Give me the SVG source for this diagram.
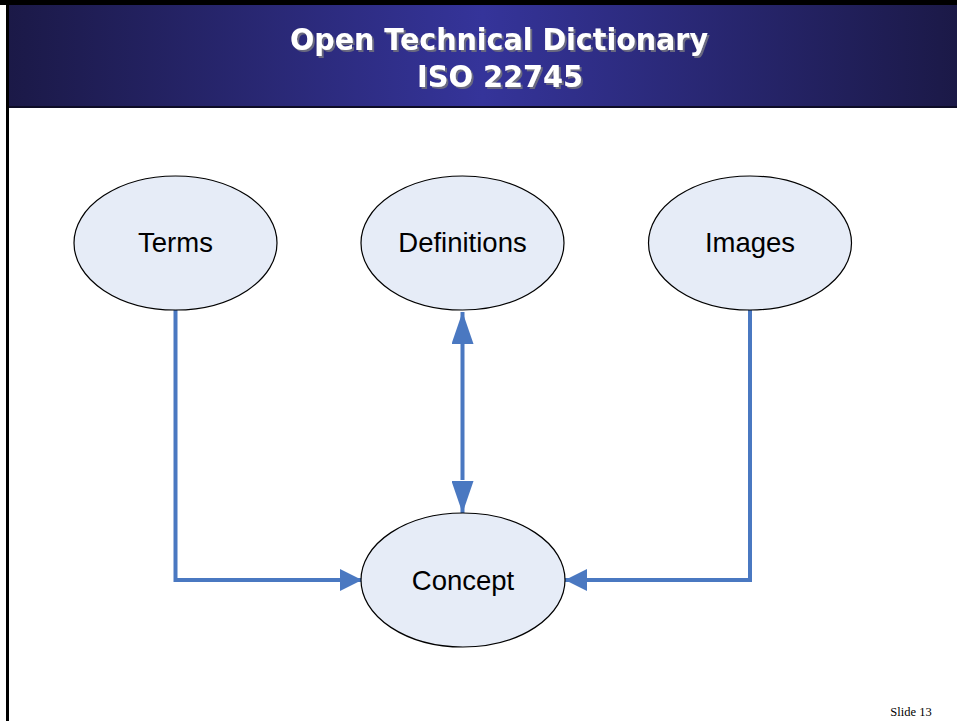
<svg xmlns="http://www.w3.org/2000/svg" width="957" height="721" viewBox="0 0 957 721">
  <defs>
    <linearGradient id="band" x1="0" y1="0" x2="1" y2="0">
      <stop offset="0" stop-color="#1b1947"/>
      <stop offset="0.5" stop-color="#35349a"/>
      <stop offset="1" stop-color="#1b1947"/>
    </linearGradient>
    <filter id="shade" x="-5%" y="-20%" width="110%" height="150%">
      <feDropShadow dx="2" dy="2" stdDeviation="0.4" flood-color="#6b6b80" flood-opacity="1"/>
    </filter>
    <marker id="headH" viewBox="0 0 22 22" refX="22" refY="11" markerWidth="22" markerHeight="22" markerUnits="userSpaceOnUse" orient="auto">
      <path d="M0,0 L22,11 L0,22 Z" fill="#4a78c1"/>
    </marker>
    <marker id="headV" viewBox="0 0 32 22" refX="32" refY="11" markerWidth="32" markerHeight="22" markerUnits="userSpaceOnUse" orient="auto">
      <path d="M0,0 L32,11 L0,22 Z" fill="#4a78c1"/>
    </marker>
  </defs>
  <style>
    .node ellipse { fill: #e6ecf7; stroke: #000; stroke-width: 1.2; }
    .node text { font-family: "Liberation Sans", Arial, sans-serif; font-size: 27.5px; fill: #000; text-anchor: middle; }
    .title { font-family: "DejaVu Sans", Verdana, sans-serif; font-weight: bold; font-size: 30px; text-anchor: middle; fill: #ffffff; }
    .conn { fill: none; stroke: #4a78c1; stroke-width: 4; }
  </style>

  <!-- page -->
  <rect x="0" y="0" width="957" height="721" fill="#ffffff"/>

  <!-- title band -->
  <rect x="8" y="4" width="949" height="104" fill="url(#band)"/>
  <rect x="0" y="0" width="957" height="5" fill="#000"/>
  <rect x="8" y="106" width="949" height="2" fill="#0d0c26"/>
  <rect x="6" y="0" width="3" height="721" fill="#000"/>

  <g id="title" filter="url(#shade)">
    <text class="title" x="499" y="50" textLength="418" lengthAdjust="spacingAndGlyphs">Open Technical Dictionary</text>
    <text class="title" x="500" y="87" textLength="166" lengthAdjust="spacingAndGlyphs">ISO 22745</text>
  </g>

  <!-- connectors -->
  <g id="connectors">
    <path class="conn" d="M175.5,310 V580 H362" marker-end="url(#headH)"/>
    <path class="conn" d="M750,310 V580 H565" marker-end="url(#headH)"/>
    <path class="conn" d="M462.5,340 V480"/>
    <path class="conn" d="M462.5,330 V312" marker-end="url(#headV)"/>
    <path class="conn" d="M462.5,490 V513" marker-end="url(#headV)"/>
  </g>

  <g id="terms" class="node">
    <ellipse cx="175.5" cy="243" rx="101.5" ry="67"/>
    <text x="175.5" y="252">Terms</text>
  </g>
  <g id="definitions" class="node">
    <ellipse cx="462.5" cy="243" rx="101.5" ry="67"/>
    <text x="462.5" y="252">Definitions</text>
  </g>
  <g id="images" class="node">
    <ellipse cx="750" cy="243" rx="101.5" ry="67"/>
    <text x="750" y="252">Images</text>
  </g>
  <g id="concept" class="node">
    <ellipse cx="463" cy="580" rx="102" ry="67"/>
    <text x="463" y="590">Concept</text>
  </g>

  <text x="911" y="716" font-family="Liberation Serif, 'Times New Roman', serif" font-size="12.5" text-anchor="middle" fill="#000">Slide 13</text>
</svg>
